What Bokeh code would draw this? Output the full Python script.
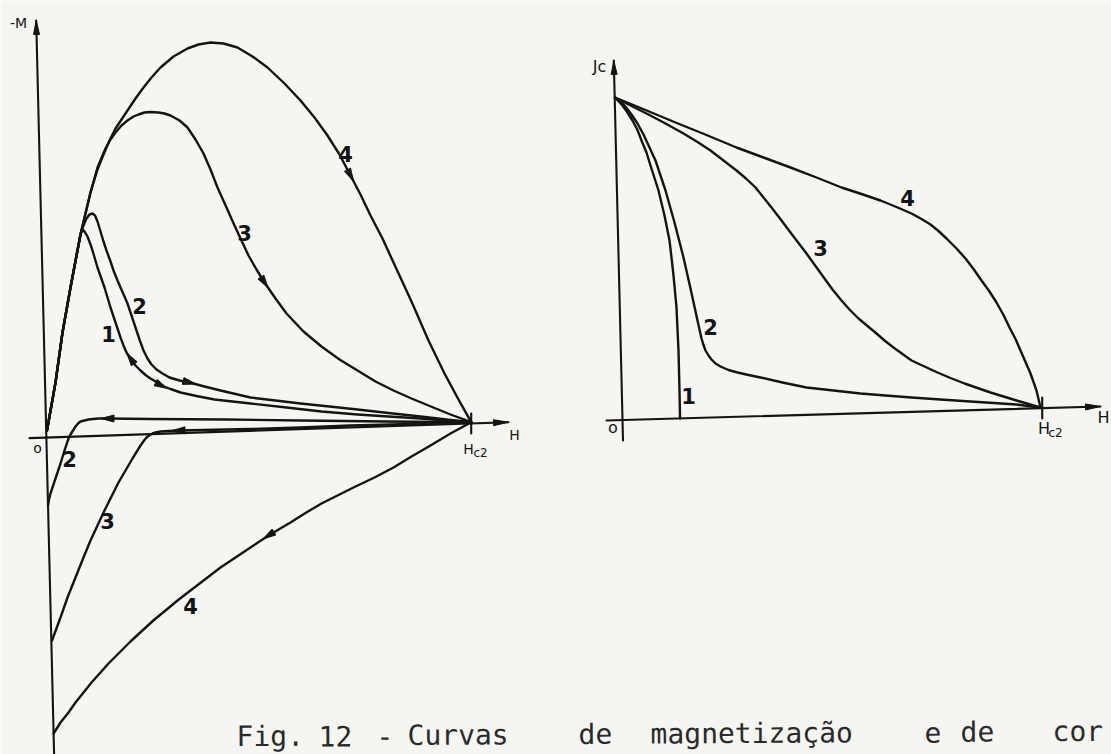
import numpy as np
from bokeh.plotting import figure
from bokeh.models import Range1d
from bokeh.core.properties import value
from bokeh.embed import file_html
from bokeh.resources import INLINE

# ------------------------------------------------------------------
# Left panel: -M versus H (arbitrary units, O at the origin, Hc2 at right)
# ------------------------------------------------------------------
m_axis_h = [-10.3, 7.6]
m_axis_m = [417, -317]
h_axis_h = [-17, 462]
h_axis_m = [-0.6, 15.3]
hc2_tick_h = [424.7, 424.7]
hc2_tick_m = [24, 4]

# increasing-field branches
c1_up_h = [0.5, 9, 16, 24, 34, 35.7, 38, 41, 44, 46, 51, 58, 64, 71, 74, 77, 80, 84, 89, 94, 99, 104,
           110, 115, 124, 134, 150, 168, 186, 204, 240, 275, 311, 342, 374, 400, 424.7]
c1_up_m = [7, 55, 105, 150, 203, 208, 206, 201, 193, 187, 170, 150, 130, 109, 100, 92, 85, 79, 72, 67, 62.5, 59,
           55.5, 52, 48.5, 45, 41.5, 38, 36, 34, 30, 26, 23, 21, 19, 17, 15.3]

c2_up_h = [0.5, 9, 16, 24, 34, 37, 40, 43, 46, 48.5, 51, 54, 57, 60, 64, 67, 71, 74, 78, 81, 85, 89, 93, 97,
           101, 105, 110, 116, 123, 133, 143, 158, 174, 189, 204, 229, 254, 283, 311, 342, 374, 400, 424.7]
c2_up_m = [7, 55, 105, 150, 203, 212, 219, 223, 224, 222, 216, 206, 196, 187, 176, 167, 157, 150, 141, 134, 122, 110, 98, 87,
           79, 73, 68, 64, 60, 57, 55, 51, 47, 43.5, 40, 37, 34, 31, 28, 24.5, 21, 18, 15.3]

c3_up_h = [0.5, 9, 16, 24, 34, 44, 51, 59, 64, 69, 75, 81, 87, 92, 98, 104, 112, 118, 124, 133, 141, 149, 157,
           164, 171, 180, 188, 195, 202, 210, 218, 229, 240, 257, 275, 293, 311, 329, 347, 365, 382, 404, 424.7]
c3_up_m = [7, 55, 105, 150, 203, 245, 270, 289, 298, 305, 312, 317, 321, 323, 325, 325.5, 325, 324, 322, 317, 310, 298, 284,
           268, 250, 230, 212, 197, 182, 168, 155, 139, 124, 106, 91, 78, 67, 56, 47, 39, 32, 23, 15.3]

c4_up_h = [0.5, 9, 16, 24, 34, 44, 51, 57, 63, 69, 75, 81, 89, 97, 105, 114, 127, 141, 152, 164, 177, 191, 206,
           221, 238, 254, 268, 281, 293, 304, 314, 324, 336, 347, 365, 382, 398, 412, 424.7]
c4_up_m = [7, 55, 105, 150, 203, 245, 268, 283, 297, 309, 318, 327, 339, 350, 360, 370, 381, 389, 393, 395, 394, 390, 381,
           370, 354, 337, 320, 302, 283, 262, 243, 222, 199, 175, 136, 97, 64, 38, 15.3]

# decreasing-field branches (trapped flux at H = 0)
c2_dn_h = [424.7, 340, 254, 180, 104, 61, 52, 47, 42, 38, 34, 31.5, 29, 26.5, 24, 22, 20, 18, 16, 14, 11.5,
           9, 6.5, 4, 2.5, 1.5]
c2_dn_m = [15.3, 16, 17, 18, 18.5, 19, 19, 18.5, 18, 17, 16, 14, 11, 7, 3, -1, -7, -13, -19.5, -26, -33.5,
           -41, -48.5, -56, -62, -68]

c3_dn_h = [424.7, 364, 304, 254, 204, 168, 132, 122, 114, 109, 106, 103, 100, 97, 94, 90, 86, 82.5, 79, 75.5,
           72, 65, 58, 51, 44, 37, 29, 21, 14, 5.5]
c3_dn_m = [15.3, 13.5, 12, 10, 8.5, 7.7, 7, 6.5, 6, 5, 4, 2.3, 0, -3.8, -8, -14.5, -21, -27, -33, -39,
           -45, -59, -73, -88, -103, -120, -140, -160, -180, -203]

c4_dn_h = [424.7, 404, 384, 365, 347, 328, 309, 292, 275, 259, 244, 233, 222, 204, 189, 174, 159, 144, 131,
           119, 108, 97, 84, 71, 62, 54, 45, 37, 29, 22, 14, 7.1]
c4_dn_m = [15.3, 4, -8, -19, -30, -40, -49, -57.5, -66, -75.5, -85, -91.5, -98, -110, -120, -130, -141.5, -153, -163,
           -173, -182, -192, -204, -217, -226, -235, -245, -255, -265, -275, -285, -296]

left_num_text = ["4", "3", "2", "1", "2", "3", "4"]
left_num_h = [299, 198, 93, 62, 23, 61, 144]
left_num_m = [284, 205, 132, 104, -21, -83, -168]

# ------------------------------------------------------------------
# Right panel: Jc versus H (arbitrary units)
# ------------------------------------------------------------------
j_axis_h = [-8.7, 0.5]
j_axis_j = [359, -21]
h2_axis_h = [-16, 478]
h2_axis_j = [-1, 13]
hc2r_tick_h = [419.7, 419.7]
hc2r_tick_j = [22, 1]

jc1_h = [-7.5, 0, 5, 10, 15, 19, 24, 28, 32, 36, 39, 42, 44.5, 47, 49, 51, 52.5, 54, 55, 56, 56.5, 57, 57.3, 57.5]
jc1_j = [322, 314, 307, 299, 289.5, 279, 267, 254, 241.5, 229, 216.5, 204, 191.5, 179, 162, 144, 128, 112, 90, 69, 49, 29, 15, 1]

jc2_h = [-7.5, -2, 3, 9, 15, 21, 27, 33, 38, 43, 47.5, 52, 56.5, 61, 64.5, 68, 71.5, 75, 77, 79, 81, 83, 86, 89,
         93, 98, 106, 115, 126, 138, 160, 184, 211, 238, 263, 289, 318, 348, 371, 394, 418]
jc2_j = [322, 318, 313, 305, 296, 285, 272, 259, 244, 229, 213, 197, 179.5, 162, 146.5, 131, 115, 99, 90, 81, 74.5, 69, 64, 60,
         56, 53, 49.5, 47, 44.5, 42, 37, 32, 29, 26, 24, 22, 20, 18, 16.5, 15, 12]

jc3_h = [-7.5, 9, 26, 43, 61, 75, 88, 101, 114, 124, 133, 141, 149, 159, 168, 176, 184, 193, 202, 210, 219, 227,
         236, 245, 254, 262, 271, 280, 289, 302, 315, 328, 342, 355, 368, 381, 394, 406, 418]
jc3_j = [322, 313.5, 305, 296, 286, 277.5, 269, 259, 249, 240.5, 232, 222, 212, 199, 187, 176.5, 166, 153.5, 141, 130, 119, 110,
         101, 93.5, 86, 79, 72, 65.5, 59, 53, 47, 41.5, 36, 31.5, 27, 23, 19, 15.5, 12]

jc4_h = [-7.5, 23, 53, 84, 114, 141, 168, 194, 219, 239, 258, 274, 289, 299, 308, 316, 324, 334, 343, 351, 359,
         367, 374, 381, 387, 393, 398, 403, 408, 411, 414, 416, 418]
jc4_j = [322, 309.5, 297, 284.5, 272, 262, 252, 242, 232, 225.5, 219, 212.5, 206, 200.5, 195, 188.5, 181, 171, 161, 150.5, 139,
         128, 117, 104.5, 92, 80.5, 69, 57.5, 46, 37.5, 29, 20.5, 12]

right_num_text = ["1", "2", "3", "4"]
right_num_h = [66, 88, 198, 285]
right_num_j = [24, 93, 172, 222]

caption_words = ["Fig.", "12", "-", "Curvas", "de", "magnetização", "e", "de", "cor"]
caption_start = [190, 272, 330, 361, 532, 604, 878, 914, 1006]

INK = "#141414"
PAPER = "#f5f5f2"

p = figure(width=1111, height=754,
           x_range=Range1d(-46, 1065), y_range=Range1d(-317, 437),
           x_axis_location=None, y_axis_location=None,
           output_backend="svg", toolbar_location=None,
           min_border=0, outline_line_color=None,
           background_fill_color=PAPER, border_fill_color=PAPER)
p.grid.visible = False
p.extra_x_ranges = {"r": Range1d(-622, 489)}
p.extra_y_ranges = {"r": Range1d(-335, 419)}


def head(xs, ys, near=None, reverse=False, length=13, width=7):
    """Triangle arrow head on a polyline, centred on the vertex nearest `near`
    (or with its tip on the last vertex when `near` is None)."""
    x = np.asarray(xs, float)
    y = np.asarray(ys, float)
    if near is None:
        i = len(x) - 1
    else:
        i = int(np.argmin((x - near[0]) ** 2 + (y - near[1]) ** 2))
    a, b = max(i - 1, 0), min(i + 1, len(x) - 1)
    d = np.array([x[b] - x[a], y[b] - y[a]])
    if reverse:
        d = -d
    d /= np.hypot(*d)
    n = np.array([-d[1], d[0]])
    c = np.array([x[i], y[i]])
    tip = c if near is None else c + d * length / 2
    base = tip - d * length
    p1, p2 = base + n * width / 2, base - n * width / 2
    return [tip[0], p1[0], p2[0]], [tip[1], p1[1], p2[1]]


def draw(xs, ys, rng=None, w=2.4):
    kw = dict(x_range_name=rng, y_range_name=rng) if rng else {}
    p.line(xs, ys, line_color=INK, line_width=w, line_join="round", line_cap="round", **kw)


# left panel axes and curves
draw(m_axis_h, m_axis_m, w=2.1)
draw(h_axis_h, h_axis_m, w=2.1)
draw(hc2_tick_h, hc2_tick_m, w=2.1)
for hh, mm in [(c1_up_h, c1_up_m), (c2_up_h, c2_up_m), (c3_up_h, c3_up_m), (c4_up_h, c4_up_m),
               (c2_dn_h, c2_dn_m), (c3_dn_h, c3_dn_m), (c4_dn_h, c4_dn_m)]:
    draw(hh, mm)

left_heads = [
    head(m_axis_h[::-1], m_axis_m[::-1], length=14, width=6),
    head(h_axis_h, h_axis_m, length=15, width=6),
    head(c4_up_h, c4_up_m, near=(302, 258)),
    head(c3_up_h, c3_up_m, near=(218, 155)),
    head(c1_up_h, c1_up_m, near=(86, 78), reverse=True),
    head(c1_up_h, c1_up_m, near=(118, 51)),
    head(c2_up_h, c2_up_m, near=(143, 55)),
    head(c2_dn_h, c2_dn_m, near=(61, 19)),
    head(c3_dn_h, c3_dn_m, near=(132, 7)),
    head(c4_dn_h, c4_dn_m, near=(222, -98)),
]
p.patches([hd[0] for hd in left_heads], [hd[1] for hd in left_heads],
          fill_color=INK, line_color=INK, line_width=1)

# right panel axes and curves
draw(j_axis_h, j_axis_j, "r", w=2.1)
draw(h2_axis_h, h2_axis_j, "r", w=2.1)
draw(hc2r_tick_h, hc2r_tick_j, "r", w=2.1)
for hh, jj in [(jc1_h, jc1_j), (jc2_h, jc2_j), (jc3_h, jc3_j), (jc4_h, jc4_j)]:
    draw(hh, jj, "r")

right_heads = [
    head(j_axis_h[::-1], j_axis_j[::-1], length=14, width=6),
    head(h2_axis_h, h2_axis_j, length=15, width=6),
]
p.patches([hd[0] for hd in right_heads], [hd[1] for hd in right_heads],
          fill_color=INK, line_color=INK, line_width=1,
          x_range_name="r", y_range_name="r")

hand = value("DejaVu Sans")
# curve numbers
p.text(left_num_h, left_num_m, text=left_num_text, text_font=hand, text_font_size="21px",
       text_font_style="bold", text_color=INK, text_align="center", text_baseline="middle")
p.text(right_num_h, right_num_j, text=right_num_text, text_font=hand, text_font_size="21px",
       text_font_style="bold", text_color=INK, text_align="center", text_baseline="middle",
       x_range_name="r", y_range_name="r")

# axis names
p.text([-28, -9, 468, 422], [415, -10, 3, -11], text=["-M", "o", "H", "H"], text_font=hand,
       text_font_size="14px", text_color=INK, text_align="center", text_baseline="middle")
p.text([434], [-15], text=["c2"], text_font=hand, text_font_size="12px", text_color=INK,
       text_align="center", text_baseline="middle")
p.text([-23, -9.5, 481, 421.5], [353, -7.5, 2, -9], text=["Jc", "o", "H", "H"], text_font=hand,
       text_font_size="16px", text_color=INK, text_align="center", text_baseline="middle",
       x_range_name="r", y_range_name="r")
p.text([433], [-13], text=["c2"], text_font=hand, text_font_size="12px", text_color=INK,
       text_align="center", text_baseline="middle", x_range_name="r", y_range_name="r")

# caption line along the bottom edge, slightly rising to the right like the scan
cap_x = np.asarray(caption_start, float)
cap_y = -299 + 0.006 * (cap_x - caption_start[0])
p.text(cap_x, cap_y, text=caption_words, text_font=value("DejaVu Sans Mono"), text_font_size="28px",
       text_color="#2a2a2a", text_align="left", text_baseline="alphabetic", angle=0.006)

open("out.html", "w").write(file_html(p, INLINE))
